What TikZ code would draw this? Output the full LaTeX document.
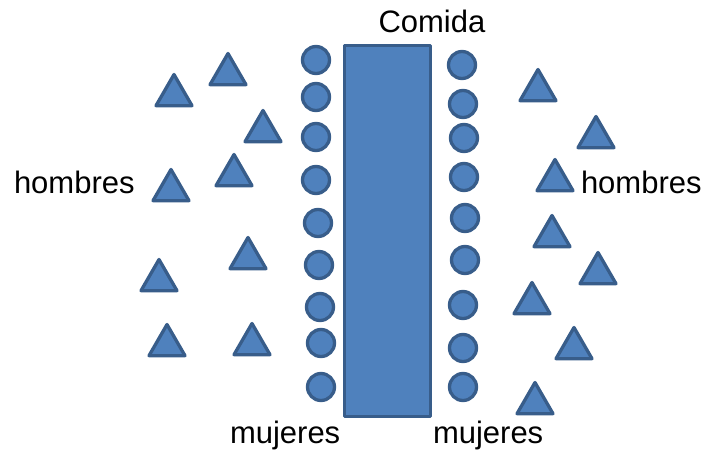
\documentclass[tikz,border=0pt]{standalone}
\usepackage{fontspec}
\setmainfont{Liberation Sans}
\usetikzlibrary{shapes.geometric}
\definecolor{fillblue}{HTML}{4F81BD}
\definecolor{edgeblue}{HTML}{385D8A}
\tikzset{
  shapebase/.style={draw=edgeblue, fill=fillblue, line width=3.3pt, line join=round, inner sep=0pt, outer sep=0pt},
  dot/.style={shapebase, circle, minimum size=27pt},
  tri/.style={shapebase, regular polygon, regular polygon sides=3, minimum size=41.6pt},
  foodbox/.style={shapebase, rectangle, minimum width=86pt, minimum height=371pt},
  lbl/.style={inner sep=0pt, outer sep=0pt, anchor=base west, font=\fontsize{31}{36}\selectfont}
}
\begin{document}
\begin{tikzpicture}[x=1pt,y=-1pt]
\useasboundingbox (0,0) rectangle (704,450);
\node[foodbox] (food) at (387.5,231) {};
% left circles
\foreach \x/\y [count=\i] in {316/60,316/97,316/137,316/180,318/223,319/265,320/307,321/343,321/387}
  \node[dot] (L\i) at (\x,\y) {};
% right circles
\foreach \x/\y [count=\i] in {462/65,463/104,464/138,464/177,465/218,465/260,463/305,463/348,463/387}
  \node[dot] (R\i) at (\x,\y) {};
% triangles
\foreach \x/\y [count=\i] in {174/95.3,228/74.3,263/131.3,234/175.3,171/190.3,248/258.3,159/280.3,167/345.3,252/344.3,538/90.3,596/137.3,555/180.3,552/236.3,598/273.3,532/303.3,574/348.3,535/403.3}
  \node[tri] (T\i) at (\x,\y) {};
% labels
\node[lbl] (comida) at (378.5,32) {Comida};
\node[lbl] (hl) at (14,193) {hombres};
\node[lbl] (hr) at (581,193) {hombres};
\node[lbl] (ml) at (230,443) {mujeres};
\node[lbl] (mr) at (433,443) {mujeres};
\end{tikzpicture}
\end{document}
